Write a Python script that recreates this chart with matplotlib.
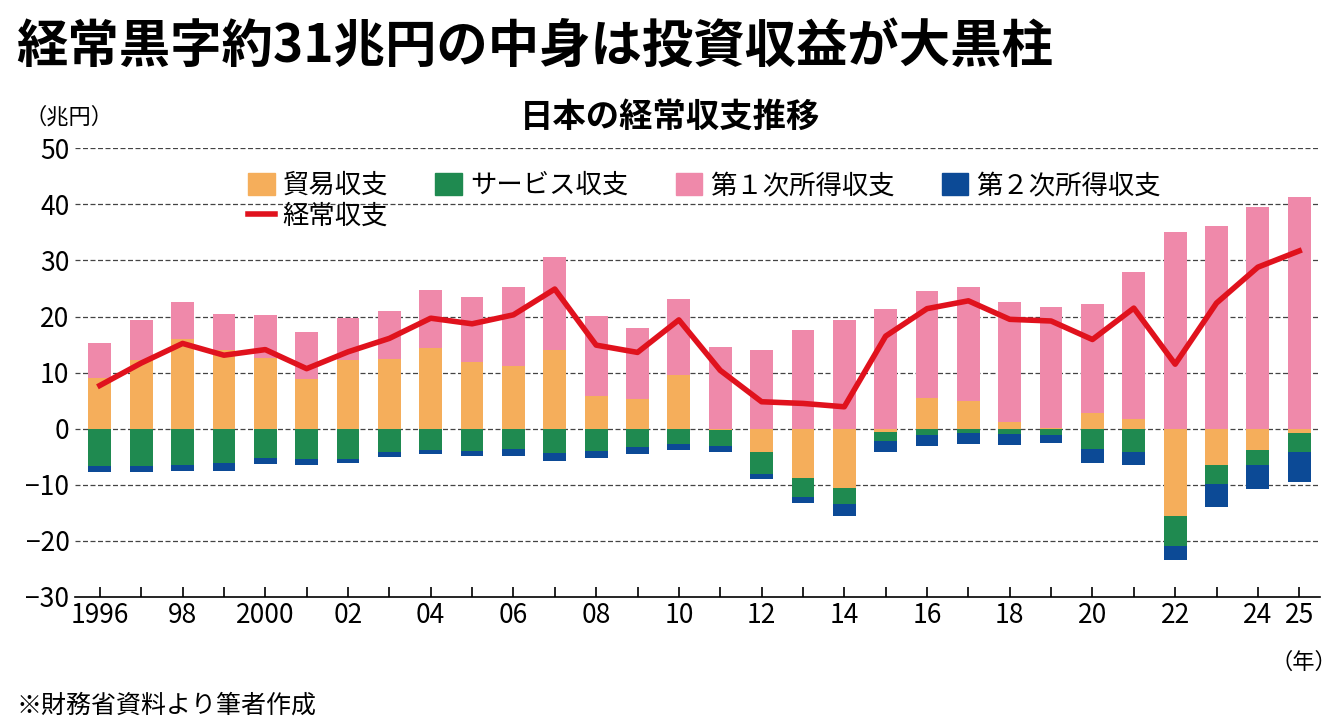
import numpy as np
import matplotlib.pyplot as plt
from matplotlib.lines import Line2D
from matplotlib.patches import Patch

plt.rcParams['font.family'] = ['Noto Sans CJK JP', 'DejaVu Sans']

years = np.arange(1996, 2026)
trade = [9.0, 12.3, 16.0, 14.0, 12.6, 8.8, 12.2, 12.5, 14.4, 11.8,
         11.1, 14.1, 5.8, 5.3, 9.5, -0.3, -4.2, -8.8, -10.5, -0.6,
         5.5, 4.9, 1.1, 0.2, 2.8, 1.8, -15.5, -6.5, -3.8, -0.8]
services = [-6.7, -6.6, -6.5, -6.2, -5.2, -5.4, -5.5, -4.2, -3.8, -4.0,
            -3.7, -4.3, -3.9, -3.2, -2.7, -2.8, -3.8, -3.4, -3.0, -1.6,
            -1.1, -0.7, -1.0, -1.1, -3.7, -4.2, -5.5, -3.3, -2.7, -3.4]
primary = [6.2, 7.0, 6.6, 6.5, 7.6, 8.4, 7.6, 8.5, 10.3, 11.7,
           14.1, 16.5, 14.3, 12.7, 13.6, 14.6, 14.0, 17.6, 19.4, 21.3,
           19.1, 20.4, 21.5, 21.5, 19.4, 26.2, 35.0, 36.2, 39.5, 41.3]
secondary = [-1.0, -1.1, -1.1, -1.4, -1.1, -1.0, -0.6, -0.9, -0.8, -0.8,
             -1.2, -1.4, -1.4, -1.3, -1.1, -1.1, -1.0, -1.0, -2.0, -1.9,
             -2.0, -2.1, -2.0, -1.4, -2.4, -2.2, -2.4, -4.1, -4.3, -5.4]
current = [7.7, 11.7, 15.2, 13.1, 14.1, 10.7, 13.7, 16.1, 19.7, 18.7,
           20.3, 24.9, 14.9, 13.6, 19.4, 10.4, 4.8, 4.5, 3.9, 16.5,
           21.4, 22.8, 19.5, 19.2, 15.9, 21.5, 11.5, 22.4, 28.8, 31.7]
tick_years = [1996, 1998, 2000, 2002, 2004, 2006, 2008, 2010, 2012, 2014,
              2016, 2018, 2020, 2022, 2024, 2025]
tick_labels = ['1996', '98', '2000', '02', '04', '06', '08', '10', '12', '14',
               '16', '18', '20', '22', '24', '25']

c_trade, c_serv, c_prim, c_sec, c_line = '#f5ae5b', '#1f8a50', '#ef89aa', '#0c4a96', '#e0121d'

trade = np.array(trade); services = np.array(services)
primary = np.array(primary); secondary = np.array(secondary)

fig = plt.figure(figsize=(13.4, 7.27), dpi=100)
ax = fig.add_axes([0.056, 0.179, 0.929, 0.617])
w = 0.55
pos_t = np.where(trade > 0, trade, 0)
neg_t = np.where(trade < 0, trade, 0)
ax.bar(years, pos_t, w, color=c_trade, zorder=2)
ax.bar(years, primary, w, bottom=pos_t, color=c_prim, zorder=2)
ax.bar(years, neg_t, w, color=c_trade, zorder=2)
ax.bar(years, services, w, bottom=neg_t, color=c_serv, zorder=2)
ax.bar(years, secondary, w, bottom=neg_t + services, color=c_sec, zorder=2)
ax.plot(years, current, color=c_line, lw=4, zorder=3)

ax.set_xlim(1995.4, 2025.5)
ax.set_ylim(-30, 50)
ax.set_yticks(range(-30, 51, 10))
for y in range(-20, 51, 10):
    ax.axhline(y, color='#444', lw=0.9, ls=(0, (4, 2)), zorder=1)
ax.set_xticks(years, minor=True)
ax.set_xticks(tick_years)
ax.set_xticklabels(tick_labels)
ax.tick_params(axis='x', which='both', direction='in', length=7, width=1.2, labelsize=19, pad=4)
ax.tick_params(axis='y', length=0, labelsize=19, pad=4)
for s in ['top', 'right', 'left']:
    ax.spines[s].set_visible(False)
ax.spines['bottom'].set_linewidth(1.2)

handles = [Patch(color=c_trade, label='貿易収支'),
           Line2D([], [], color=c_line, lw=4, label='経常収支'),
           Patch(color=c_serv, label='サービス収支'),
           Patch(color=c_prim, label='第１次所得収支'),
           Patch(color=c_sec, label='第２次所得収支')]
ax.legend(handles=handles, ncol=4, loc='upper left', bbox_to_anchor=(0.12, 1.0),
          frameon=False, fontsize=19, handlelength=1.0, handleheight=0.9,
          columnspacing=1.8, handletextpad=0.3, labelspacing=0.15)

fig.text(0.012, 0.915, '経常黒字約31兆円の中身は投資収益が大黒柱', fontsize=37, fontweight='bold')
fig.text(0.5, 0.825, '日本の経常収支推移', fontsize=24, fontweight='bold', ha='center')
fig.text(0.018, 0.83, '（兆円）', fontsize=16)
fig.text(0.948, 0.08, '（年）', fontsize=16)
fig.text(0.012, 0.02, '※財務省資料より筆者作成', fontsize=18)

fig.savefig('out.png', dpi=100)
